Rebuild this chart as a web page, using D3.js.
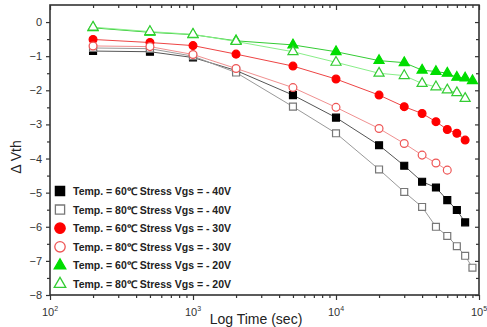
<!DOCTYPE html>
<html>
<head>
<meta charset="utf-8">
<script src="https://cdn.jsdelivr.net/npm/d3@7"></script>
<style>
  body { margin: 0; background: #fff; }
  svg { display: block; font-family: "Liberation Sans", Arial, sans-serif; }
</style>
</head>
<body>
<svg id="chart" width="487" height="327"></svg>
<script>
"use strict";

// stress times (sec)
const times = [200, 500, 1000, 2000, 5000, 10000, 20000, 30000, 40000, 50000, 60000, 70000, 80000, 90000];

// delta Vth, one array per curve (shorter ones stop earlier)
const t60v40 = [-0.85, -0.87, -1.04, -1.42, -2.14, -2.80, -3.61, -4.21, -4.68, -4.85, -5.22, -5.51, -5.87];
const t80v40 = [-0.76, -0.78, -1.00, -1.48, -2.48, -3.26, -4.32, -4.98, -5.42, -6.00, -6.27, -6.57, -6.85, -7.20];
const t60v30 = [-0.51, -0.60, -0.69, -0.94, -1.29, -1.67, -2.14, -2.48, -2.68, -2.92, -3.15, -3.26, -3.46];
const t80v30 = [-0.70, -0.72, -0.95, -1.36, -1.92, -2.50, -3.12, -3.56, -3.90, -4.13, -4.34];
const t60v20 = [-0.17, -0.30, -0.37, -0.55, -0.67, -0.87, -1.13, -1.19, -1.41, -1.45, -1.50, -1.62, -1.64, -1.72];
const t80v20 = [-0.15, -0.28, -0.36, -0.57, -0.87, -1.18, -1.50, -1.57, -1.80, -1.90, -1.99, -2.07, -2.24];

const labels = [
  "Temp. = 60\u2103 Stress Vgs = - 40V",
  "Temp. = 80\u2103 Stress Vgs = - 40V",
  "Temp. = 60\u2103 Stress Vgs = - 30V",
  "Temp. = 80\u2103 Stress Vgs = - 30V",
  "Temp. = 60\u2103 Stress Vgs = - 20V",
  "Temp. = 80\u2103 Stress Vgs = - 20V"
];

const yTicks = [0, -1, -2, -3, -4, -5, -6, -7, -8];
const xMajor = [100, 1000, 10000, 100000];

// look of each series
const styles = [
  {vals: t60v40, sym: d3.symbolSquare,   fill: "#000",    stroke: "#000",    line: "#555"},
  {vals: t80v40, sym: d3.symbolSquare,   fill: "#fff",    stroke: "#777",    line: "#999"},
  {vals: t60v30, sym: d3.symbolCircle,   fill: "#f00",    stroke: "#f00",    line: "#e44"},
  {vals: t80v30, sym: d3.symbolCircle,   fill: "#fff",    stroke: "#e55",    line: "#f09090"},
  {vals: t60v20, sym: d3.symbolTriangle, fill: "#00dd00", stroke: "#00dd00", line: "#3c3"},
  {vals: t80v20, sym: d3.symbolTriangle, fill: "#fff",    stroke: "#3c3",    line: "#8e8"}
];

(() => {
  const svg = d3.select("#chart");
  const pl = 50, pr = 479, pt = 5, pb = 295;

  const x = d3.scaleLog().domain([100, 100000]).range([pl, pr]);
  const y = d3.scaleLinear().domain([-8, 0.5]).range([pb, pt]);

  const xMinor = [];
  [100, 1000, 10000].forEach(b => { for (let k = 2; k <= 9; k++) xMinor.push(b * k); });
  const yMinor = d3.range(-7.5, 0.5, 1);

  const axisColor = "#333";
  function styleAxis(g) {
    g.select(".domain").remove();
    g.selectAll("line").attr("stroke", axisColor).attr("stroke-width", 1.2);
    g.selectAll("text").attr("fill", "#333").style("font-size", "11px");
  }

  // bottom axis
  svg.append("g").attr("transform", `translate(0,${pb})`)
    .call(d3.axisBottom(x).tickValues(xMajor).tickSize(5).tickFormat(""))
    .call(styleAxis);
  svg.append("g").attr("transform", `translate(0,${pb})`)
    .call(d3.axisBottom(x).tickValues(xMinor).tickSize(3).tickFormat(""))
    .call(styleAxis);
  // top (mirror, inward)
  svg.append("g").attr("transform", `translate(0,${pt})`)
    .call(d3.axisBottom(x).tickValues(xMajor).tickSize(5).tickFormat(""))
    .call(styleAxis);
  svg.append("g").attr("transform", `translate(0,${pt})`)
    .call(d3.axisBottom(x).tickValues(xMinor).tickSize(3).tickFormat(""))
    .call(styleAxis);

  // x labels as 10 with superscript
  const xl = svg.append("g").selectAll("text").data(xMajor).enter().append("text")
    .attr("x", d => x(d))
    .attr("y", pb + 21)
    .attr("text-anchor", "middle")
    .attr("fill", "#333")
    .style("font-size", "11px");
  xl.append("tspan").text("10");
  xl.append("tspan").attr("dy", -5).style("font-size", "7px").text(d => Math.round(Math.log10(d)));

  // left axis
  svg.append("g").attr("transform", `translate(${pl},0)`)
    .call(d3.axisLeft(y).tickValues(yTicks).tickSize(4).tickPadding(4).tickFormat(d3.format("d")))
    .call(styleAxis);
  svg.append("g").attr("transform", `translate(${pl},0)`)
    .call(d3.axisLeft(y).tickValues(yMinor).tickSize(3).tickFormat(""))
    .call(styleAxis);
  // right (inward)
  svg.append("g").attr("transform", `translate(${pr},0)`)
    .call(d3.axisLeft(y).tickValues(yTicks).tickSize(4).tickFormat(""))
    .call(styleAxis);
  svg.append("g").attr("transform", `translate(${pr},0)`)
    .call(d3.axisLeft(y).tickValues(yMinor).tickSize(3).tickFormat(""))
    .call(styleAxis);

  // frame
  svg.append("rect")
    .attr("x", pl).attr("y", pt)
    .attr("width", pr - pl).attr("height", pb - pt)
    .attr("fill", "none").attr("stroke", axisColor).attr("stroke-width", 1.6);

  // axis titles
  svg.append("text")
    .attr("x", 256).attr("y", 324)
    .attr("text-anchor", "middle")
    .attr("fill", "#222")
    .style("font-size", "14px")
    .text("Log Time (sec)");
  svg.append("text")
    .attr("transform", "translate(21,157) rotate(-90)")
    .attr("text-anchor", "middle")
    .attr("fill", "#222")
    .style("font-size", "14px")
    .text("\u0394 Vth");

  // series
  const line = d3.line().x(d => x(d[0])).y(d => y(d[1]));
  styles.forEach(s => {
    const pts = s.vals.map((v, i) => [times[i], v]);
    const g = svg.append("g");
    g.append("path").datum(pts)
      .attr("d", line)
      .attr("fill", "none")
      .attr("stroke", s.line)
      .attr("stroke-width", 1);
    g.selectAll("path.pt").data(pts).enter().append("path")
      .attr("class", "pt")
      .attr("transform", d => `translate(${x(d[0])},${y(d[1])})`)
      .attr("d", d3.symbol().type(s.sym).size(s.sym === d3.symbolTriangle ? 44 : 48))
      .attr("fill", s.fill)
      .attr("stroke", s.stroke)
      .attr("stroke-width", 1.2);
  });

  // legend
  const leg = svg.append("g");
  labels.forEach((lab, i) => {
    const s = styles[i];
    const yy = 191 + i * 18.6;
    leg.append("path")
      .attr("transform", `translate(60,${yy})`)
      .attr("d", d3.symbol().type(s.sym).size(s.sym === d3.symbolTriangle ? 58 : 85))
      .attr("fill", s.fill)
      .attr("stroke", s.fill === "#fff" ? s.stroke : s.fill)
      .attr("stroke-width", 1.3);
    leg.append("text")
      .attr("x", 73).attr("y", yy + 4)
      .attr("fill", "#222")
      .style("font-size", "10.5px")
      .style("font-weight", "bold")
      .text(lab);
  });
})();
</script>
</body>
</html>
